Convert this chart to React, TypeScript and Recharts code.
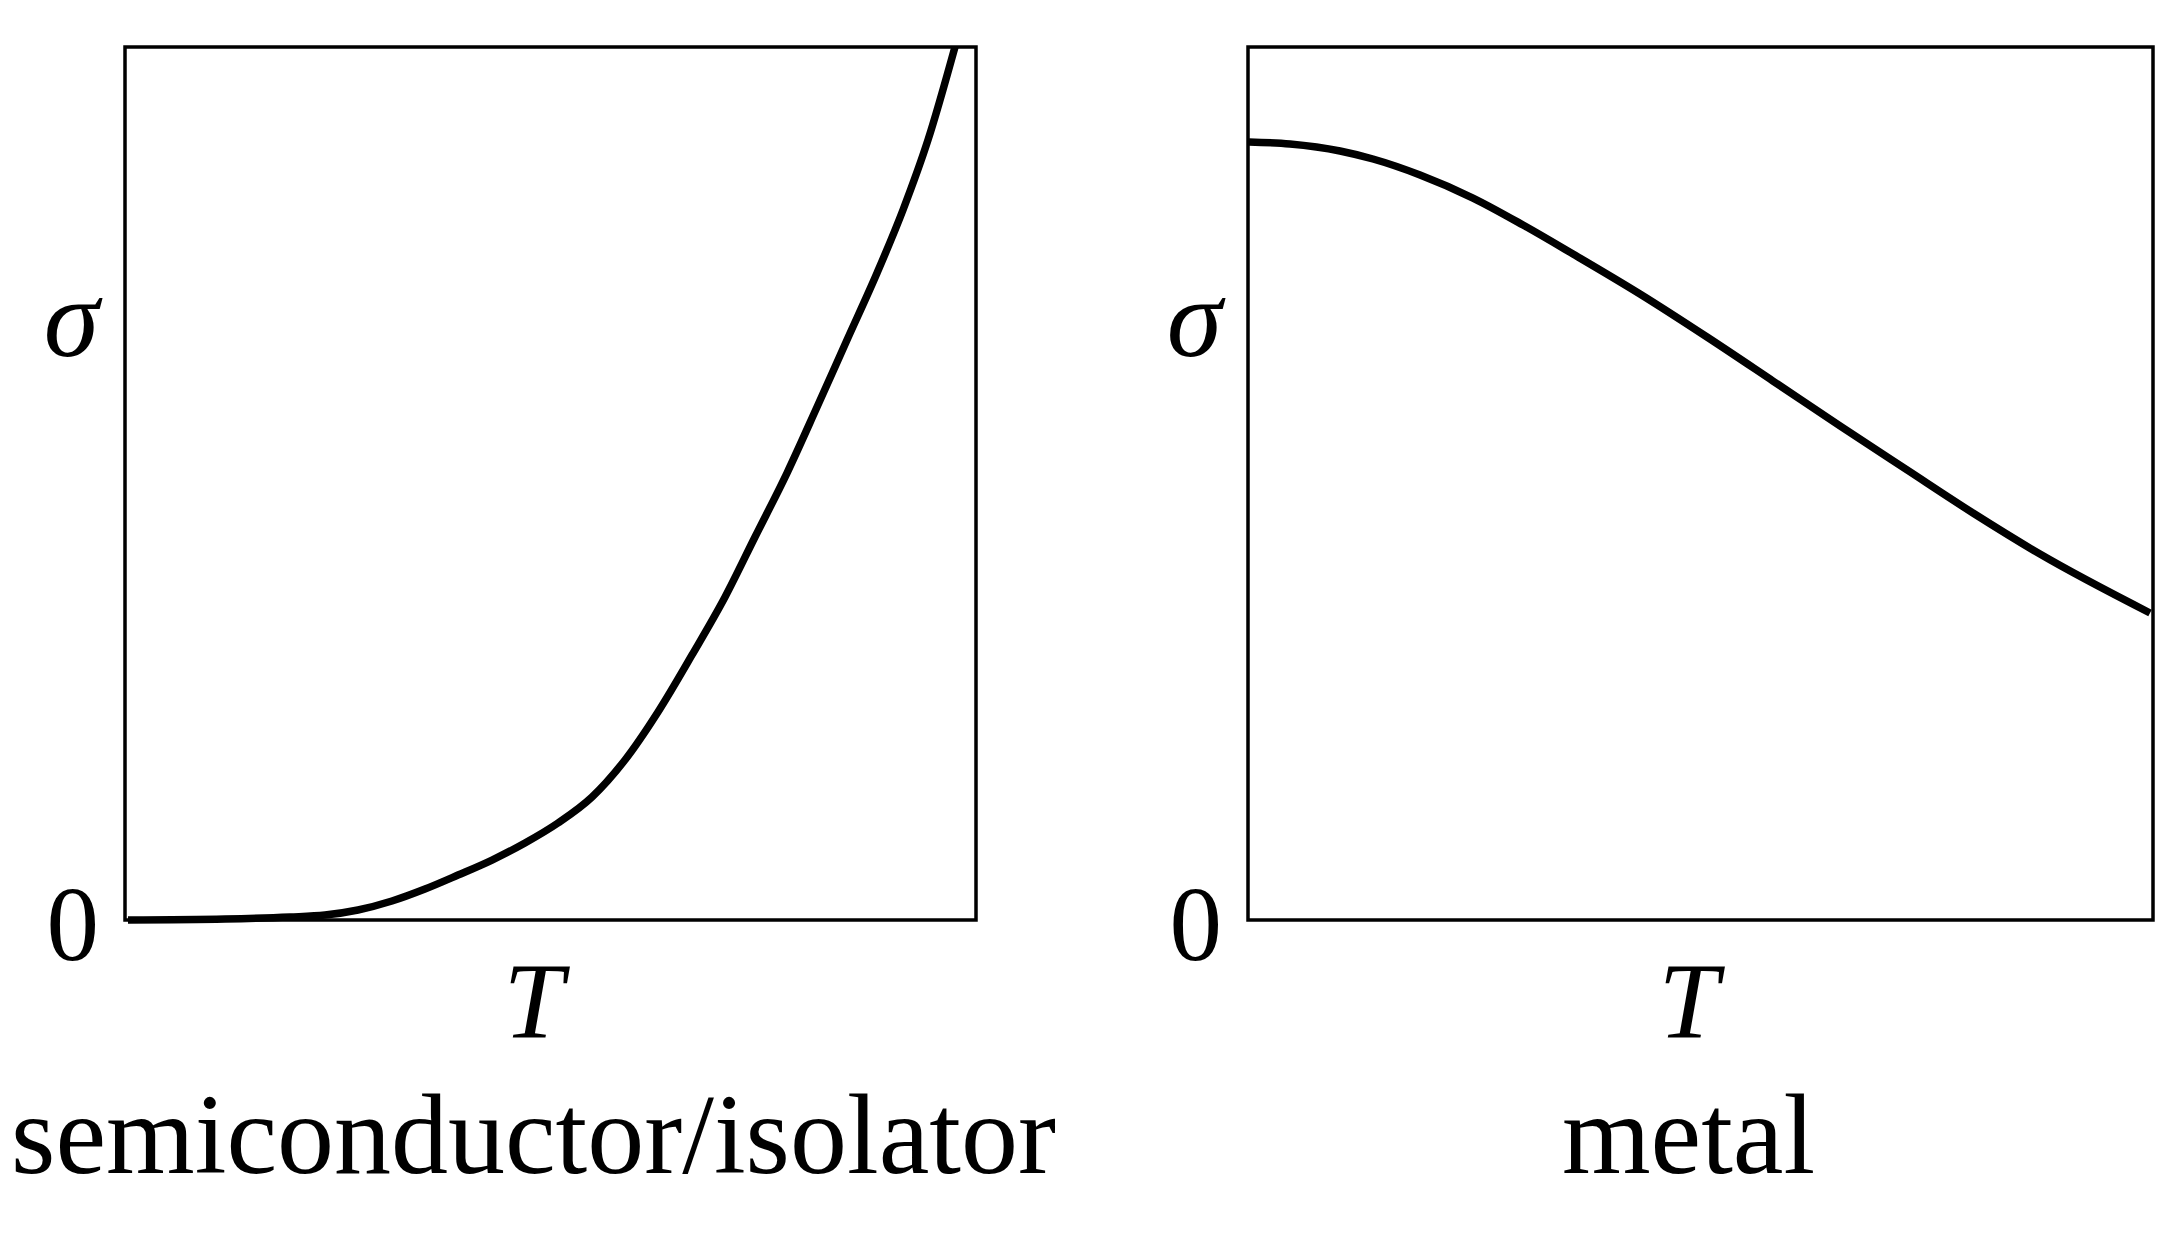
import { Line, LineChart, ReferenceArea, XAxis, YAxis } from "recharts";

// semiconductor / isolator: sigma(T), both scaled to the frame (0..1)
const semiTemps = [
  0.0035, 0.1175, 0.1939, 0.235, 0.2738, 0.3137, 0.3525, 0.3913, 0.4313, 0.47,
  0.5088, 0.5488, 0.5875, 0.6263, 0.6663, 0.7051, 0.7403, 0.7779, 0.8132,
  0.8484, 0.8837, 0.9142, 0.9436, 0.9753,
];
const semiSigma = [
  0, 0.0011, 0.0034, 0.0057, 0.0115, 0.0218, 0.0355, 0.0515, 0.0687, 0.0882,
  0.1111, 0.1409, 0.1833, 0.2383, 0.3036, 0.37, 0.4387, 0.512, 0.5876, 0.6644,
  0.7411, 0.8133, 0.8935, 1.0,
];

// metal
const metalTemps = [
  0.0011, 0.0464, 0.1017, 0.1381, 0.1901, 0.2486, 0.3039, 0.3591, 0.4331,
  0.5072, 0.5801, 0.6541, 0.7282, 0.8011, 0.8751, 0.9967,
];
const metalSigma = [
  0.8912, 0.8889, 0.8809, 0.8717, 0.8534, 0.827, 0.7961, 0.7629, 0.7171,
  0.6678, 0.6174, 0.5659, 0.5155, 0.4662, 0.4192, 0.3517,
];

// the y axis only carries "0" at the origin and the sigma symbol
const sigmaTicks = [0, 0.676];
const xLabel = "T";
const captions = ["semiconductor/isolator", "metal"];

const FONT = "'Liberation Serif', 'Times New Roman', serif";

function SigmaTick(props: any) {
  const { x, y, payload } = props;
  const zero = payload.value === 0;
  return (
    <text
      x={x}
      y={y}
      dy={zero ? 40 : 26}
      textAnchor="end"
      fontFamily={FONT}
      fontSize={zero ? 105 : 112}
      fontStyle={zero ? "normal" : "italic"}
      fill="#000"
    >
      {zero ? "0" : "σ"}
    </text>
  );
}

// T under the frame, caption below it
function Caption(props: any) {
  const { caption, shift, fallback } = props;
  const vb = props.viewBox ?? fallback;
  const cx = vb.x + vb.width / 2 + shift;
  const bottom = vb.y + vb.height;
  return (
    <g>
      <text
        x={cx}
        y={bottom + 117}
        textAnchor="middle"
        fontFamily={FONT}
        fontStyle="italic"
        fontSize={108}
        fill="#000"
      >
        {xLabel}
      </text>
      <text
        x={cx}
        y={bottom + 253}
        textAnchor="middle"
        fontFamily={FONT}
        fontSize={114}
        fill="#000"
      >
        {caption}
      </text>
    </g>
  );
}

type PanelProps = {
  temps: number[];
  sigma: number[];
  caption: string;
  left: number;
  width: number;
  axisWidth: number;
  rightMargin: number;
  shift: number;
};

const TOP = 47;
const BOTTOM = 313;
const HEIGHT = 1233;

function Panel({ temps, sigma, caption, left, width, axisWidth, rightMargin, shift }: PanelProps) {
  const data = temps.map((t, i) => ({ t, s: sigma[i] }));
  const fallback = {
    x: axisWidth,
    y: TOP,
    width: width - axisWidth - rightMargin,
    height: HEIGHT - TOP - BOTTOM,
  };
  return (
    <div style={{ position: "absolute", left, top: 0 }}>
      <LineChart
        width={width}
        height={HEIGHT}
        data={data}
        margin={{ top: TOP, right: rightMargin, bottom: BOTTOM, left: 0 }}
      >
        <XAxis
          dataKey="t"
          type="number"
          domain={[0, 1]}
          height={0}
          axisLine={false}
          tickLine={false}
          tick={false}
        />
        <YAxis
          type="number"
          domain={[0, 1]}
          width={axisWidth}
          ticks={sigmaTicks}
          interval={0}
          axisLine={false}
          tickLine={false}
          tickSize={0}
          tickMargin={26}
          tick={<SigmaTick />}
        />
        <ReferenceArea
          x1={0}
          x2={1}
          y1={0}
          y2={1}
          fill="none"
          fillOpacity={0}
          stroke="#000"
          strokeWidth={3.5}
          label={<Caption caption={caption} shift={shift} fallback={fallback} />}
        />
        <Line
          dataKey="s"
          type="monotone"
          stroke="#000"
          strokeWidth={7.5}
          dot={false}
          activeDot={false}
          isAnimationActive={false}
        />
      </LineChart>
    </div>
  );
}

export default function App() {
  return (
    <div
      style={{
        position: "absolute",
        left: 0,
        top: 0,
        width: 2182,
        height: 1233,
        background: "#fff",
      }}
    >
      <Panel
        temps={semiTemps}
        sigma={semiSigma}
        caption={captions[0]}
        left={0}
        width={1080}
        axisWidth={125}
        rightMargin={104}
        shift={-17}
      />
      <Panel
        temps={metalTemps}
        sigma={metalSigma}
        caption={captions[1]}
        left={1100}
        width={1082}
        axisWidth={148}
        rightMargin={29}
        shift={-12}
      />
    </div>
  );
}
